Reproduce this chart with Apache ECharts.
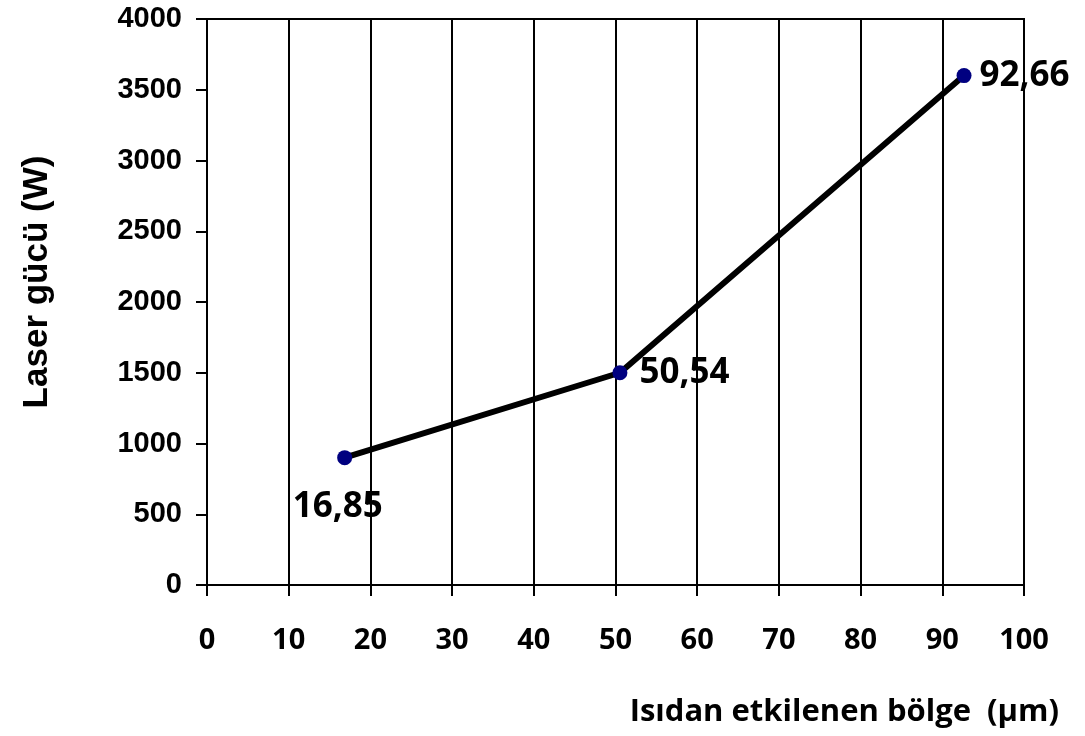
<!DOCTYPE html>
<html>
<head>
<meta charset="utf-8">
<title>Laser gücü - Isıdan etkilenen bölge</title>
<script src="https://cdn.jsdelivr.net/npm/echarts@6/dist/echarts.min.js"></script>
<style>
  html, body { margin: 0; padding: 0; background: #fff; }
  #chart { width: 1085px; height: 736px; }
</style>
</head>
<body>
<div id="chart"></div>
<script>
// Heat-affected zone width (µm) vs. laser power (W)
const haz = [16.85, 50.54, 92.66];
const power = [900, 1500, 3600];
const labelPlacement = ['bottom', 'right', 'right'];

const xTitle = 'Isıdan etkilenen bölge  (µm)';
const yTitle = 'Laser gücü (W)';

const humanist = '"Open Sans", Lato, sans-serif';
const grotesk = '"Liberation Sans", Arial, sans-serif';

const labelDistance = [24, 12, 8];
const labelOffset = [[-7, 0], [0, 0], [0, 0]];

const points = haz.map((x, i) => ({
  value: [x, power[i]],
  label: {
    position: labelPlacement[i],
    distance: labelDistance[i],
    offset: labelOffset[i]
  }
}));

const chart = echarts.init(document.getElementById('chart'), null, { renderer: 'canvas' });

chart.setOption({
  animation: false,
  backgroundColor: '#ffffff',
  grid: {
    left: 207, right: 61, top: 19, bottom: 151,
    show: true, borderColor: '#000', borderWidth: 2, backgroundColor: 'transparent'
  },
  xAxis: {
    type: 'value',
    min: 0, max: 100, interval: 10,
    axisLine: { show: true, lineStyle: { color: '#000', width: 2 } },
    axisTick: { show: true, inside: false, length: 11, lineStyle: { color: '#000', width: 2 } },
    splitLine: { show: true, lineStyle: { color: '#000', width: 2 } },
    axisLabel: {
      margin: 41, color: '#000', fontFamily: humanist, fontWeight: 'bold', fontSize: 29,
      formatter: v => String(v)
    }
  },
  yAxis: {
    type: 'value',
    min: 0, max: 4000, interval: 500,
    axisLine: { show: true, lineStyle: { color: '#000', width: 2 } },
    axisTick: { show: true, inside: false, length: 11, lineStyle: { color: '#000', width: 2 } },
    splitLine: { show: false },
    axisLabel: {
      margin: 25, color: '#000', fontFamily: grotesk, fontWeight: 'bold', fontSize: 29,
      formatter: v => String(v)
    }
  },
  graphic: [
    {
      type: 'text',
      x: 37, y: 282,
      rotation: Math.PI / 2,
      style: {
        text: yTitle,
        fill: '#000',
        fontFamily: grotesk,
        fontWeight: 'bold',
        fontSize: 35,
        align: 'center',
        verticalAlign: 'middle'
      }
    },
    {
      type: 'text',
      x: 1059, y: 712,
      style: {
        text: xTitle,
        fill: '#000',
        fontFamily: humanist,
        fontWeight: 'bold',
        fontSize: 31,
        align: 'right',
        verticalAlign: 'middle'
      }
    }
  ],
  series: [
    {
      type: 'line',
      data: points,
      symbol: 'circle',
      symbolSize: 15,
      lineStyle: { color: '#000', width: 6 },
      itemStyle: { color: '#000080' },
      z: 3,
      label: {
        show: true,
        color: '#000',
        fontFamily: humanist,
        fontWeight: 'bold',
        fontSize: 35,
        formatter: p => String(p.value[0]).replace('.', ',')
      }
    }
  ]
});
</script>
</body>
</html>
